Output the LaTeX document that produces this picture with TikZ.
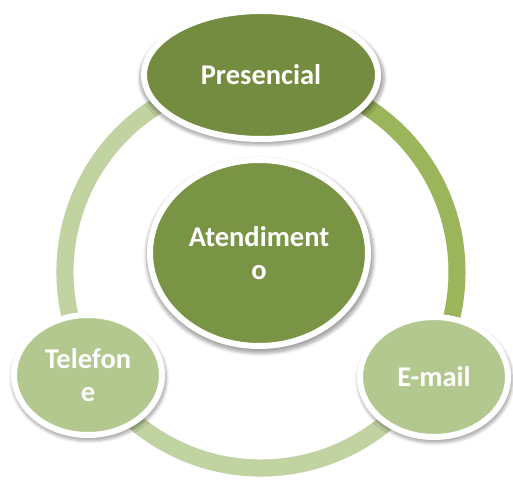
\documentclass[tikz,border=0pt]{standalone}
\usepackage{fontspec}
\setmainfont{Carlito}
\usetikzlibrary{shapes.geometric,shadows.blur}
\definecolor{darkgreen}{RGB}{116,140,63}
\definecolor{midgreen}{RGB}{122,148,69}
\definecolor{lightgreen}{RGB}{179,200,143}
\definecolor{ringgreen}{RGB}{155,181,90}
\definecolor{ringpale}{RGB}{192,211,160}
\tikzset{
  bubble/.style={ellipse,draw=white,line width=6pt,text=white,align=center,inner sep=0pt,
    font=\bfseries\fontsize{28.5}{33}\selectfont,
    blur shadow={shadow blur steps=6,shadow blur radius=3pt,shadow xshift=1pt,
      shadow yshift=-3pt,shadow scale=1.045,shadow opacity=35}},
  band/.style={line width=17pt},
  bandshadow/.style={line width=17pt,black,opacity=0.1,shift={(1.5pt,-2.5pt)}}
}
\begin{document}
\begin{tikzpicture}[x=1pt,y=1pt]
\useasboundingbox (0,0) rectangle (513,479);
\coordinate (ring) at (261,207);
% cycle band
\foreach \a/\b in {90/-31,-31/-149,-149/-270}
  \draw[bandshadow] ([shift={(\a:196)}]ring) arc[start angle=\a,end angle=\b,radius=196];
\draw[band,ringgreen] ([shift={(90:196)}]ring) arc[start angle=90,end angle=-31,radius=196];
\draw[band,ringpale] ([shift={(-31:196)}]ring) arc[start angle=-31,end angle=-149,radius=196];
\draw[band,ringpale] ([shift={(-149:196)}]ring) arc[start angle=-149,end angle=-270,radius=196];
% bubbles
\node[bubble,fill=midgreen,minimum width=218pt,minimum height=186pt] (atendimento) at (259,226) {Atendiment\\o};
\node[bubble,fill=darkgreen,minimum width=234pt,minimum height=128pt] (presencial) at (261,404) {Presencial};
\node[bubble,fill=lightgreen,minimum width=148pt,minimum height=120pt] (telefone) at (88,104) {Telefon\\e};
\node[bubble,fill=lightgreen,minimum width=148pt,minimum height=120pt] (email) at (434,102) {E-mail};
\end{tikzpicture}
\end{document}
